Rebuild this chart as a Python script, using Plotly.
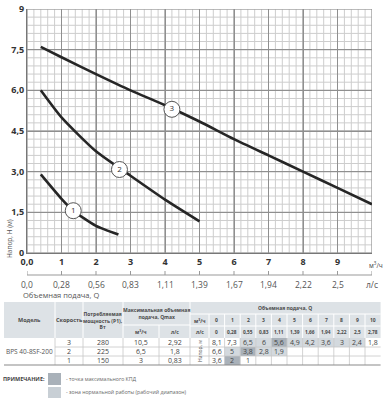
import plotly.graph_objects as go

# ---------------- data ----------------
# pump curves (flow m3/h, head m)
c3_q = [0.4, 1, 2, 3, 4, 5, 6, 7, 8, 9, 10]
c3_h = [7.6, 7.22, 6.6, 6.0, 5.45, 4.85, 4.2, 3.6, 3.0, 2.4, 1.8]
c2_q = [0.4, 1, 2, 3, 4, 5]
c2_h = [6.0, 5.0, 3.75, 2.85, 1.97, 1.17]
c1_q = [0.4, 1, 1.35, 2, 2.65]
c1_h = [2.9, 2.0, 1.55, 1.0, 0.68]
label_names = ["1", "2", "3"]
label_q = [1.34, 2.68, 4.2]
label_h = [1.56, 3.08, 5.3]

x_ticks = [0, 1, 2, 3, 4, 5, 6, 7, 8, 9, 10]
x_text = ["0,0", "1", "2", "3", "4", "5", "6", "7", "8", "9", ""]
ls_text = ["0,0", "0,28", "0,56", "0,83", "1,11", "1,39", "1,67", "1,94", "2,22", "2,5", "л/с"]
y_ticks = [0, 1.5, 3, 4.5, 6, 7.5, 9]
y_text = ["0", "1,5", "3,0", "4,5", "6,0", "7,5", "9"]

# table data
model = "BPS 40-8SF-200"
speeds = [3, 2, 1]
power = [280, 225, 150]
qmax_m3h = ["10,5", "6,5", "3"]
qmax_ls = ["2,92", "1,8", "0,83"]
q_m3h = ["0", "1", "2", "3", "4", "5", "6", "7", "8", "9", "10"]
q_ls = ["0", "0,28", "0,55", "0,83", "1,11", "1,39", "1,66", "1,94", "2,22", "2,5", "2,78"]
head_rows = [
    ["8,1", "7,3", "6,5", "6", "5,6", "4,9", "4,2", "3,6", "3", "2,4", "1,8"],
    ["6,6", "5", "3,8", "2,8", "1,9"],
    ["3,6", "2", "1"],
]
# cell class: m = max efficiency point, w = working zone
head_class = [
    ["", "", "w", "w", "m", "w", "w", "w", "w", "w", ""],
    ["", "w", "m", "w", "w"],
    ["", "m", ""],
]

# ---------------- helpers ----------------
W, H = 385, 400
def X(px):
    return px / W
def Y(py):
    return 1 - py / H

GRID_MAJ = "#8f8f8f"
GRID_MIN = "#cdcdcd"
CURVE = "#262626"
FONT = "Open Sans"
X_RANGE = [0, 10]
Y_RANGE = [0, 9]
X_MINOR = 0.2
Y_MINOR = 0.3

fig = go.Figure()
for q, h in [(c3_q, c3_h), (c2_q, c2_h), (c1_q, c1_h)]:
    fig.add_trace(go.Scatter(x=q, y=h, mode="lines", line=dict(color=CURVE, width=2.6, shape="spline", smoothing=0.6),
                             hoverinfo="skip", showlegend=False))
fig.add_trace(go.Scatter(x=label_q, y=label_h, mode="markers+text", text=label_names,
                         textposition="middle center", textfont=dict(size=8, color="#333", family=FONT),
                         marker=dict(size=16, color="white", line=dict(color="#555", width=1)),
                         hoverinfo="skip", showlegend=False))

fig.update_layout(
    width=W, height=H, margin=dict(l=0, r=0, t=0, b=0, pad=0),
    paper_bgcolor="white", plot_bgcolor="white",
    font=dict(family=FONT, color="#333"),
    xaxis=dict(domain=[X(27), X(372)], range=X_RANGE, tickmode="array", tickvals=x_ticks, ticktext=x_text,
               showgrid=True, gridcolor=GRID_MAJ, gridwidth=1, zeroline=False,
               showline=True, linecolor="#777", linewidth=1, ticks="", automargin=False,
               tickfont=dict(size=9, color="#333", family=FONT, weight="bold")),
    yaxis=dict(domain=[Y(253), Y(9)], range=Y_RANGE, tickmode="array", tickvals=y_ticks, ticktext=y_text,
               showgrid=True, gridcolor=GRID_MAJ, gridwidth=1, zeroline=False,
               showline=True, linecolor="#777", linewidth=1, ticks="", automargin=False,
               tickfont=dict(size=9, color="#333", family=FONT, weight="bold")),
)

ann = []
shp = []
# minor grid (in data coordinates, below the major grid)
n = int(round((X_RANGE[1] - X_RANGE[0]) / X_MINOR))
for i in range(n + 1):
    xv = X_RANGE[0] + i * X_MINOR
    shp.append(dict(type="line", xref="x", yref="y", x0=xv, x1=xv, y0=Y_RANGE[0], y1=Y_RANGE[1],
                    line=dict(color=GRID_MIN, width=1), layer="below"))
n = int(round((Y_RANGE[1] - Y_RANGE[0]) / Y_MINOR))
for i in range(n + 1):
    yv = Y_RANGE[0] + i * Y_MINOR
    shp.append(dict(type="line", xref="x", yref="y", x0=X_RANGE[0], x1=X_RANGE[1], y0=yv, y1=yv,
                    line=dict(color=GRID_MIN, width=1), layer="below"))
# major grid
for xv in x_ticks:
    shp.append(dict(type="line", xref="x", yref="y", x0=xv, x1=xv, y0=Y_RANGE[0], y1=Y_RANGE[1],
                    line=dict(color=GRID_MAJ, width=1), layer="below"))
for yv in y_ticks:
    shp.append(dict(type="line", xref="x", yref="y", x0=X_RANGE[0], x1=X_RANGE[1], y0=yv, y1=yv,
                    line=dict(color=GRID_MAJ, width=1), layer="below"))

# secondary flow scale in l/s, placed on the x scale
LS_Y = Y(275)
shp.append(dict(type="line", xref="x", yref="paper", x0=X_RANGE[0], x1=X_RANGE[1], y0=LS_Y, y1=LS_Y,
                line=dict(color="#999", width=1)))
for xv, t in zip(x_ticks, ls_text):
    shp.append(dict(type="line", xref="x", yref="paper", x0=xv, x1=xv, y0=LS_Y, y1=LS_Y + 4 / H,
                    line=dict(color="#999", width=1)))
    ann.append(dict(x=xv, y=Y(284), xref="x", yref="paper", text=t, showarrow=False, xanchor="center",
                    yanchor="middle", font=dict(size=8.5, color="#555", family=FONT)))

def text(px, py, s, size=6, color="#4a4a4a", bold=False, xanchor="center", angle=0):
    ann.append(dict(x=X(px), y=Y(py), xref="paper", yref="paper", text=s, showarrow=False,
                    xanchor=xanchor, yanchor="middle", textangle=angle,
                    font=dict(size=size, color=color, family=FONT, weight="bold" if bold else "normal")))
def rect(x0, y0, x1, y1, fill, line=None, lw=0):
    shp.append(dict(type="rect", xref="paper", yref="paper", x0=X(x0), x1=X(x1), y0=Y(y1), y1=Y(y0),
                    fillcolor=fill, line=dict(width=lw, color=line or fill), layer="above"))
def hline(x0, x1, py, color, w=1):
    shp.append(dict(type="line", xref="paper", yref="paper", x0=X(x0), x1=X(x1), y0=Y(py), y1=Y(py),
                    line=dict(color=color, width=w), layer="above"))
def vline(px, y0, y1, color, w=1):
    shp.append(dict(type="line", xref="paper", yref="paper", x0=X(px), x1=X(px), y0=Y(y0), y1=Y(y1),
                    line=dict(color=color, width=w), layer="above"))

# axis titles / units
text(9, 239, "Напор, H (м)", size=6.5, color="#555", angle=-90)
text(376, 265, "м<sup>3</sup>/ч", size=6.5, color="#444")
text(21, 295, "Объемная подача, Q", size=7.5, color="#555", xanchor="left")

# ---------------- table ----------------
HDR = "#dde2e6"
MAXC = "#a9b1b9"
WRKC = "#d3d9de"
LINEC = "#c6c6c6"
left, right = 4, 380.6
e_model, e_speed, e_pow, e_qm, e_ql, e_lab = 55, 83, 123, 159, 190, 209
cw = 15.6
q_edges = [e_lab + cw * i for i in range(len(q_m3h) + 1)]
ht, hq1, hq2, hb = 302, 314, 326, 338
row_edges = [338, 347, 356, 365]

rect(left, ht, right, hb, HDR)
for px in [e_model, e_speed, e_pow, e_ql]:
    vline(px, ht, hb, "white")
vline(e_qm, 325, hb, "white")
hline(e_pow, e_ql, 325, "white")
hline(e_ql, right, hq1, "white")
hline(e_ql, right, hq2, "white")
for px in q_edges[:-1]:
    vline(px, hq1, hb, "white")

text((left + e_model) / 2, 320, "Модель", size=5.5, bold=True)
text((e_model + e_speed) / 2, 320, "Скорость", size=5.5, bold=True)
text((e_speed + e_pow) / 2, 320, "Потребляемая<br>мощность (P1),<br>Вт", size=5, bold=True)
text((e_pow + e_ql) / 2, 314, "Максимальная объемная<br>подача, Qmax", size=5, bold=True)
text((e_pow + e_qm) / 2, 331.5, "м<sup>3</sup>/ч", size=5, bold=True)
text((e_qm + e_ql) / 2, 331.5, "л/с", size=5, bold=True)
text((e_ql + right) / 2, 308, "Объемная подача, Q", size=5, bold=True)
text((e_ql + e_lab) / 2, 320, "м<sup>3</sup>/ч", size=5, bold=True)
text((e_ql + e_lab) / 2, 332, "л/с", size=5, bold=True)
for i in range(len(q_m3h)):
    cx = (q_edges[i] + q_edges[i + 1]) / 2
    text(cx, 320, q_m3h[i], size=5, bold=True)
    text(cx, 332, q_ls[i], size=4.8, bold=True)

# data cells
for r in range(len(speeds)):
    y0, y1 = row_edges[r], row_edges[r + 1]
    cy = (y0 + y1) / 2
    for i, v in enumerate(head_rows[r]):
        cls = head_class[r][i]
        if cls:
            rect(q_edges[i], y0, q_edges[i + 1], y1, MAXC if cls == "m" else WRKC)
    text((e_model + e_speed) / 2, cy, str(speeds[r]), size=7, color="#444")
    text((e_speed + e_pow) / 2, cy, str(power[r]), size=7, color="#444")
    text((e_pow + e_qm) / 2, cy, qmax_m3h[r], size=7, color="#444")
    text((e_qm + e_ql) / 2, cy, qmax_ls[r], size=7, color="#444")
    for i, v in enumerate(head_rows[r]):
        text((q_edges[i] + q_edges[i + 1]) / 2, cy, v, size=7, color="#444")
for py in row_edges[1:-1]:
    hline(e_model, right, py, LINEC, 0.8)
for px in [e_model, e_speed, e_pow, e_qm, e_ql, e_lab] + q_edges[1:-1]:
    vline(px, hb, row_edges[-1], LINEC, 0.8)
hline(left, right, row_edges[-1], "#8a8a8a", 1.2)
text((left + e_model) / 2, (row_edges[0] + row_edges[-1]) / 2, model, size=6.5, color="#555")
text((e_ql + e_lab) / 2, (row_edges[0] + row_edges[-1]) / 2, "Напор, м", size=5, color="#555", angle=-90)

# note
text(24, 379, "ПРИМЕЧАНИЕ:", size=5.5, color="#444", bold=True)
rect(48, 373, 61, 385, MAXC)
rect(48, 387, 61, 398, "#c8cfd5")
text(64, 379, "- точка максимального КПД", size=5.2, color="#666", xanchor="left")
text(64, 392, "- зона нормальной работы (рабочий диапазон)", size=5.2, color="#666", xanchor="left")

fig.update_layout(annotations=ann, shapes=shp)
fig.write_html("out.html", config={"displayModeBar": False, "staticPlot": True},
               post_script="document.body.style.margin='0px';")
